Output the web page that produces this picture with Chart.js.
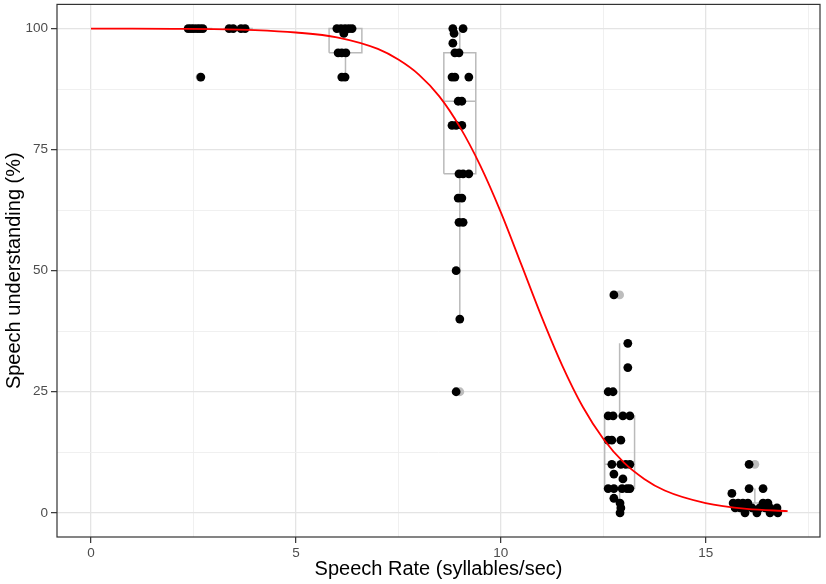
<!DOCTYPE html>
<html>
<head>
<meta charset="utf-8">
<script src="https://cdn.jsdelivr.net/npm/chart.js@4.4.1/dist/chart.umd.min.js"></script>
<style>
  html, body { margin: 0; padding: 0; background: #fff; }
  canvas { display: block; }
</style>
</head>
<body>
<canvas id="speechChart" width="826" height="584"></canvas>
<script>
// fitted curve
const curveX = [0, 1, 2, 3, 4, 5, 6, 7, 7.5, 8, 8.5, 9, 9.5, 10, 10.5, 11, 11.5, 12, 12.5, 13, 13.5, 14, 15, 16, 17]
const curveY = [100, 99.98, 99.95, 99.9, 99.7, 99.2, 98.2, 95.8, 93.6, 90.5, 86, 79.7, 71.7, 62.1, 51.3, 40.4, 30.4, 21.9, 15.3, 10.4, 7.0, 4.6, 2.0, 0.8, 0.35]

// individual (jittered) observations
const obsX = [
    2.37, 2.44, 2.51, 2.59, 2.66, 2.73, 2.68,
    3.37, 3.47, 3.66, 3.76,
    6.0, 6.1, 6.2, 6.29, 6.37, 6.17, 6.03, 6.12, 6.22, 6.12, 6.2,
    8.83, 9.08, 8.86, 8.83, 8.88, 8.98, 8.81, 8.88, 9.22, 8.96, 9.05, 8.81, 8.91, 9.05,
    8.98, 9.08, 9.22, 8.96, 9.05, 8.98, 9.08, 8.91, 9.0, 8.91,
    12.76, 13.1, 13.1, 12.62, 12.74, 12.62, 12.74, 12.98, 13.15, 12.62, 12.71, 12.93,
    12.71, 12.93, 13.05, 13.15, 12.76, 12.98, 12.62, 12.76, 12.96, 13.08, 13.15, 12.76, 12.91, 12.93, 12.91,
    16.06, 16.06, 16.4, 15.64, 15.67, 15.79, 15.91, 16.03, 16.4, 16.52,
    15.72, 15.84, 15.96, 16.13, 16.32, 16.45, 16.57, 16.74, 15.96, 16.25, 16.57, 16.76
]
const obsY = [
    100, 100, 100, 100, 100, 100, 90,
    100, 100, 100, 100,
    100, 100, 100, 100, 100, 99, 95, 95, 95, 90, 90,
    100, 100, 99, 97, 95, 95, 90, 90, 90, 85, 85, 80, 80, 80,
    70, 70, 70, 65, 65, 60, 60, 50, 40, 25,
    45, 35, 30, 25, 25, 20, 20, 20, 20, 15, 15, 15,
    10, 10, 10, 10, 8, 7, 5, 5, 5, 5, 5, 3, 2, 1, 0,
    10, 5, 5, 4, 2, 2, 2, 2, 2, 2,
    1, 1, 1, 1, 1, 1, 1, 1, 0, 0, 0, 0
]

// boxplot summaries per speech rate condition
const boxCenter = [2.66, 3.59, 6.21, 9.0, 12.9, 16.2]
const boxWidth = [0.6, 0.72, 0.8, 0.78, 0.73, 0.75]
const boxLow = [100, 100, 90, 40, 0, 0]
const boxQ1 = [100, 100, 95, 70, 5, 0.5]
const boxMedian = [100, 100, 100, 85, 10, 1]
const boxQ3 = [100, 100, 100, 95, 20, 2]
const boxHigh = [100, 100, 100, 100, 35, 5]
const outlierX = [2.66, 9.0, 12.9, 16.2]
const outlierY = [90, 25, 45, 10]

const xTicks = { min: -0.83, max: 17.79, step: 2.5 }
const yTicks = { min: -5, max: 105, step: 12.5 }

function boxPath(i)
{
    const l = boxCenter[i] - boxWidth[i] / 2
    const r = boxCenter[i] + boxWidth[i] / 2
    const c = boxCenter[i]
    const gap = { x: c, y: null }
    return [
        { x: l, y: boxQ1[i] }, { x: r, y: boxQ1[i] }, { x: r, y: boxQ3[i] }, { x: l, y: boxQ3[i] }, { x: l, y: boxQ1[i] },
        gap,
        { x: l, y: boxMedian[i] }, { x: r, y: boxMedian[i] },
        gap,
        { x: c, y: boxQ3[i] }, { x: c, y: boxHigh[i] },
        gap,
        { x: c, y: boxQ1[i] }, { x: c, y: boxLow[i] }
    ]
}

const boxDatasets = boxCenter.map((c, i) => ({
    data: boxPath(i),
    showLine: true,
    spanGaps: false,
    pointRadius: 0,
    borderColor: '#bababa',
    borderWidth: 1.5,
    order: 3
}))

const panelBorder = {
    id: 'panelBorder',
    afterDraw(chart)
    {
        const { ctx, chartArea: a } = chart
        ctx.save()
        ctx.strokeStyle = '#333333'
        ctx.lineWidth = 1.2
        ctx.strokeRect(a.left, a.top, a.right - a.left, a.bottom - a.top)
        ctx.restore()
    }
}

function gridFor(major)
{
    const isMajor = (c) => c.tick && Math.abs(c.tick.value % major) < 1e-6
    return {
        color: (c) => isMajor(c) ? '#e4e4e4' : '#eeeeee',
        lineWidth: (c) => isMajor(c) ? 1.3 : 0.9,
        tickColor: (c) => isMajor(c) ? '#333333' : 'rgba(0,0,0,0)',
        tickWidth: 1.2,
        tickLength: 6,
        drawTicks: true
    }
}

const font = "'Liberation Sans', Arial, sans-serif"

new Chart(document.getElementById('speechChart'), {
    type: 'scatter',
    data: {
        datasets: [
            {
                data: curveX.map((x, i) => ({ x: x, y: curveY[i] })),
                showLine: true,
                pointRadius: 0,
                borderColor: '#ff0000',
                borderWidth: 1.8,
                cubicInterpolationMode: 'monotone',
                order: 0
            },
            {
                data: obsX.map((x, i) => ({ x: x, y: obsY[i] })),
                pointRadius: 4.4,
                pointBackgroundColor: '#000000',
                pointBorderWidth: 0,
                order: 1
            },
            {
                data: outlierX.map((x, i) => ({ x: x, y: outlierY[i] })),
                pointRadius: 4.4,
                pointBackgroundColor: '#bdbdbd',
                pointBorderWidth: 0,
                order: 2
            },
            ...boxDatasets
        ]
    },
    options: {
        responsive: false,
        devicePixelRatio: 1,
        animation: false,
        layout: { padding: { top: 1, right: 6, left: 0, bottom: 0 } },
        plugins: { legend: { display: false }, tooltip: { enabled: false } },
        scales: {
            x: {
                type: 'linear',
                min: xTicks.min,
                max: xTicks.max,
                afterFit: (scale) => {
                    scale.height = 47
                    scale.paddingLeft = 0
                    scale.paddingRight = 0
                },
                ticks: {
                    stepSize: xTicks.step,
                    includeBounds: false,
                    autoSkip: false,
                    maxRotation: 0,
                    padding: 2,
                    color: '#4d4d4d',
                    font: { family: font, size: 13.5 },
                    callback: (v) => (v % 5 === 0 ? String(v) : '')
                },
                grid: gridFor(5),
                border: { display: false },
                title: {
                    display: true,
                    text: 'Speech Rate (syllables/sec)',
                    color: '#000000',
                    font: { family: font, size: 20 },
                    padding: { top: 0, bottom: 3 }
                }
            },
            y: {
                type: 'linear',
                min: yTicks.min,
                max: yTicks.max,
                afterFit: (scale) => {
                    scale.width = 57
                    scale.paddingTop = 0
                    scale.paddingBottom = 0
                },
                ticks: {
                    stepSize: yTicks.step,
                    includeBounds: false,
                    autoSkip: false,
                    padding: 3,
                    color: '#4d4d4d',
                    font: { family: font, size: 13.5 },
                    callback: (v) => (v % 25 === 0 ? String(v) : '')
                },
                grid: gridFor(25),
                border: { display: false },
                title: {
                    display: true,
                    text: 'Speech understanding (%)',
                    color: '#000000',
                    font: { family: font, size: 20 },
                    padding: { top: 2, bottom: 0 }
                }
            }
        }
    },
    plugins: [panelBorder]
})
</script>
</body>
</html>
